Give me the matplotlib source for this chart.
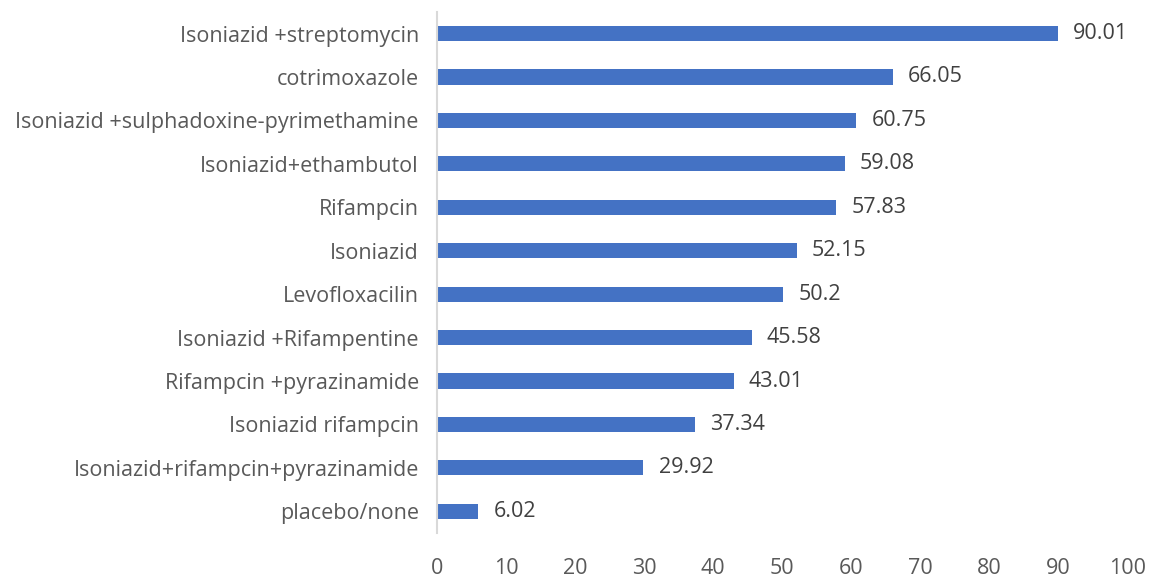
import matplotlib.pyplot as plt

# categories from top to bottom
drugs = [
    'Isoniazid +streptomycin',
    'cotrimoxazole',
    'Isoniazid +sulphadoxine-pyrimethamine',
    'Isoniazid+ethambutol',
    'Rifampcin',
    'Isoniazid',
    'Levofloxacilin',
    'Isoniazid +Rifampentine',
    'Rifampcin +pyrazinamide',
    'Isoniazid rifampcin',
    'Isoniazid+rifampcin+pyrazinamide',
    'placebo/none',
]
values = [90.01, 66.05, 60.75, 59.08, 57.83, 52.15, 50.2, 45.58, 43.01, 37.34, 29.92, 6.02]
value_labels = ['90.01', '66.05', '60.75', '59.08', '57.83', '52.15', '50.2', '45.58',
                '43.01', '37.34', '29.92', '6.02']
xticks = [0, 10, 20, 30, 40, 50, 60, 70, 80, 90, 100]

plt.rcParams['font.family'] = ['Open Sans', 'DejaVu Sans']

fig = plt.figure(figsize=(11.62, 5.81), dpi=100)
ax = fig.add_axes([0.376, 0.0826, 0.594, 0.897])

ypos = list(range(len(drugs)))
ax.barh(ypos, values, height=0.35, color='#4472C4')

for y, v, lab in zip(ypos, values, value_labels):
    ax.text(v + 2.2, y, lab, va='center', ha='left', fontsize=15.5, color='#404040')

ax.set_yticks(ypos)
ax.set_yticklabels(drugs, fontsize=15.5, color='#595959')
ax.set_ylim(len(drugs) - 0.5, -0.5)
ax.set_xlim(0, 100)
ax.set_xticks(xticks)
ax.set_xticklabels([str(t) for t in xticks], fontsize=15.5, color='#595959')
ax.tick_params(axis='both', length=0)
ax.tick_params(axis='x', pad=18)
ax.tick_params(axis='y', pad=13)

for s in ['top', 'right', 'bottom']:
    ax.spines[s].set_visible(False)
ax.spines['left'].set_color('#D9D9D9')
ax.spines['left'].set_linewidth(1.5)

fig.savefig('out.png', dpi=100)
